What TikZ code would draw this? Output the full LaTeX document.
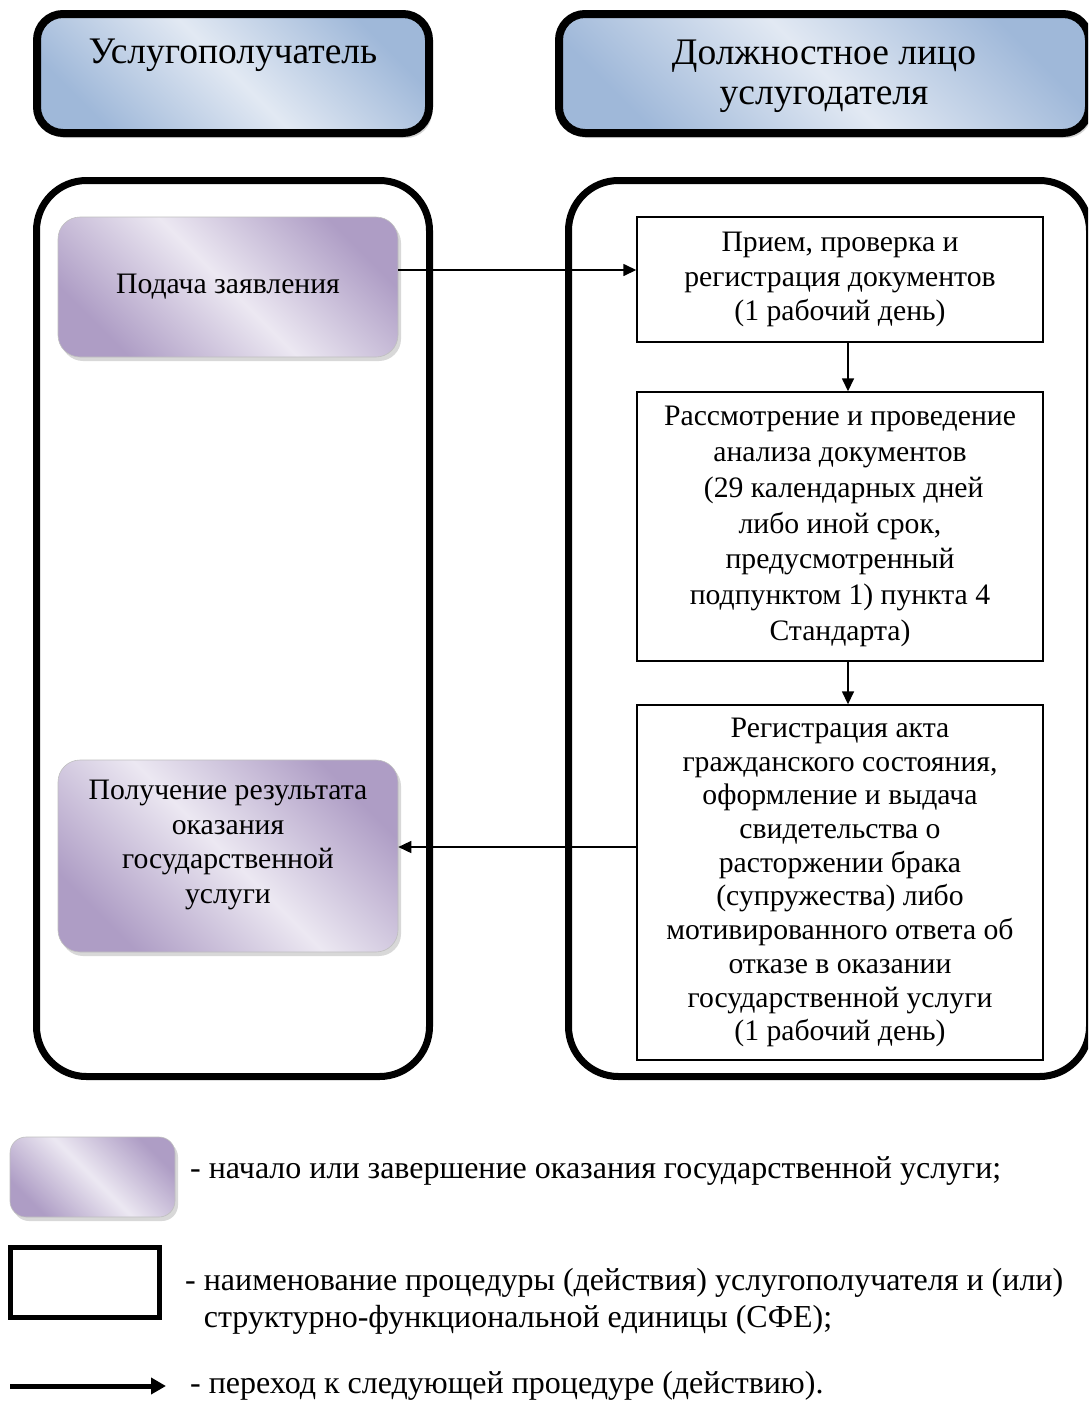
\documentclass[tikz,border=0pt]{standalone}
\usepackage{fontspec}
\setmainfont{Liberation Serif}
\usetikzlibrary{arrows.meta,shadows,calc}
\definecolor{hdrEdge}{HTML}{9FB8D9}
\definecolor{hdrMid}{HTML}{E2E9F3}
\definecolor{purEdge}{HTML}{AE9DC5}
\definecolor{purMid}{HTML}{ECE8F2}
\begin{document}
\begin{tikzpicture}[x=1pt,y=-1pt,
  header/.style={draw=black, line width=8pt, rounded corners=26pt,
    left color=hdrEdge, right color=hdrEdge, middle color=hdrMid, shading angle=-45,
    drop shadow={shadow xshift=3pt, shadow yshift=-5pt, opacity=.35},
    inner sep=0pt},
  headtext/.style={font=\fontsize{37.5}{40}\selectfont, align=center, inner sep=0pt},
  lane/.style={draw=black, line width=7pt, rounded corners=50pt, inner sep=0pt},
  startbox/.style={rounded corners=22pt, draw=black!25, line width=0.6pt,
    left color=purEdge, right color=purEdge, middle color=purMid, shading angle=-45,
    drop shadow={shadow xshift=3pt, shadow yshift=-4pt, opacity=.3},
    font=\fontsize{29.7}{34.5}\selectfont, align=center, inner sep=0pt},
  procbox/.style={draw=black, line width=1.4pt, fill=white,
    font=\fontsize{29.7}{34.5}\selectfont, align=center, inner sep=0pt},
  arr/.style={line width=1.5pt, -{Triangle[length=13pt,width=12pt]}},
  legtext/.style={font=\fontsize{32}{37}\selectfont, align=left, anchor=west, inner sep=0pt}
]
\useasboundingbox (0,0) rectangle (1088,1409);
\fill[white] (0,0) rectangle (1088,1409);
\clip (0,0) rectangle (1088,1409);

% headers
\node[header, minimum width=392, minimum height=119] (h1) at (233,73.5) {};
\node[headtext] (h1t) at (233,55) {\strut Услугополучатель};
\node[header, minimum width=530, minimum height=119] (h2) at (824,73.5) {};
\node[headtext] (h2t) at (824,76) {\strut Должностное лицо\\\strut услугодателя};

% lanes
\node[lane, minimum width=393, minimum height=896] (laneL) at (233,628.5) {};
\node[lane, minimum width=521, minimum height=896] (laneR) at (829,628.5) {};

% start/end boxes
\node[startbox, minimum width=340, minimum height=140] (p1) at (228,287) {Подача заявления};
\node[startbox, minimum width=340, minimum height=192] (p2) at (228,856)
  {Получение результата\\оказания\\государственной\\услуги\\[-16pt]\strut};

% process boxes
\node[procbox, minimum width=406, minimum height=125] (b1) at (840,279.5)
  {Прием, проверка и\\регистрация документов\\(1 рабочий день)};
\node[procbox, minimum width=406, minimum height=269, font=\fontsize{29.7}{35.7}\selectfont] (b2) at (840,526.5)
  {Рассмотрение и проведение\\анализа документов\\\ (29 календарных дней\\либо иной срок,\\предусмотренный\\подпунктом 1) пункта 4\\Стандарта)};
\node[procbox, minimum width=406, minimum height=355, font=\fontsize{29.7}{33.7}\selectfont] (b3) at (840,882.5)
  {Регистрация акта\\гражданского состояния,\\оформление и выдача\\свидетельства о\\расторжении брака\\(супружества) либо\\мотивированного ответа об\\отказе в оказании\\государственной услуги\\(1 рабочий день)};

% connectors
\coordinate (a1s) at ([yshift=17pt]p1.east);
\draw[arr] (a1s) -- (a1s -| b1.west);
\coordinate (a2s) at ([xshift=8pt]b1.south);
\draw[arr] (a2s) -- (a2s |- b2.north);
\coordinate (a3s) at ([xshift=8pt]b2.south);
\draw[arr] (a3s) -- (a3s |- b3.north);
\coordinate (a4s) at ([yshift=35.5pt]b3.west);
\draw[arr] (a4s) -- (a4s -| p2.east);

% legend
\node[startbox, rounded corners=16pt, minimum width=165, minimum height=80] (l1) at (92.5,1177) {};
\node[legtext] (t1) at (190,1171) {- начало или завершение оказания государственной услуги;};
\node[draw=black, line width=5pt, minimum width=149, minimum height=70, inner sep=0pt] (l2) at (85,1282.5) {};
\node[legtext] (t2) at (185,1301.5) {- наименование процедуры (действия) услугополучателя и (или)\\\phantom{- }структурно-функциональной единицы (СФЕ);};
\coordinate (l3a) at (10,1386);
\coordinate (l3b) at (166,1386);
\draw[line width=5pt, -{Triangle[length=15pt,width=16pt]}] (l3a) -- (l3b);
\node[legtext] (t3) at (190,1386) {- переход к следующей процедуре (действию).};
\end{tikzpicture}
\end{document}
